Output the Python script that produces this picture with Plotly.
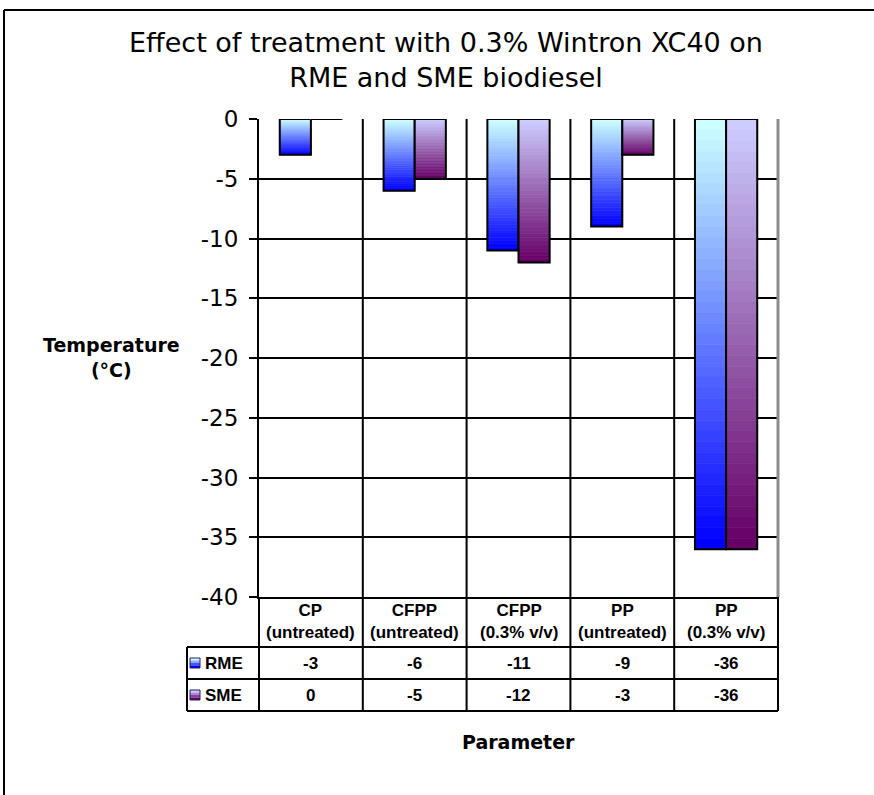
import plotly.graph_objects as go

# ---------------- data ----------------
categories = ["CP (untreated)", "CFPP (untreated)", "CFPP (0.3% v/v)", "PP (untreated)", "PP (0.3% v/v)"]
cat_line1 = ["CP", "CFPP", "CFPP", "PP", "PP"]
cat_line2 = ["(untreated)", "(untreated)", "(0.3% v/v)", "(untreated)", "(0.3% v/v)"]
rme = [-3, -6, -11, -9, -36]
sme = [0, -5, -12, -3, -36]
series_names = ["RME", "SME"]
y_ticks = [0, -5, -10, -15, -20, -25, -30, -35, -40]

# ---------------- style ----------------
W, H = 874, 795
L, R, T, B = 259, 778, 119, 597  # plot area in pixels
PW, PH = R - L, B - T

def px_x(px):
    return (px - L) / PW

def px_y(py):
    return (B - py) / PH

grad = {
    "RME": ((204, 255, 255), (0, 0, 255)),
    "SME": ((204, 204, 255), (102, 0, 102)),
}

def mix(c0, c1, t):
    return "rgb(%d,%d,%d)" % tuple(round(a + (b - a) * t) for a, b in zip(c0, c1))

N = 40
xs = list(range(len(categories)))
fig = go.Figure()

for name, vals in zip(series_names, [rme, sme]):
    c0, c1 = grad[name]
    for i in range(N):
        col = mix(c0, c1, i / (N - 1))
        fig.add_trace(go.Bar(
            x=xs, y=[v / N for v in vals], base=[v * i / N for v in vals],
            offsetgroup=name, marker=dict(color=col, line=dict(color=col, width=0.6)),
            showlegend=False, hoverinfo="skip"))
    fig.add_trace(go.Bar(
        x=xs, y=vals, offsetgroup=name, name=name,
        marker=dict(color="rgba(0,0,0,0)", line=dict(color="black", width=2)),
        showlegend=False))

shapes = []
table_bottom = 711
for k in range(1, len(categories)):
    shapes.append(dict(type="line", xref="x", yref="paper", x0=k - 0.5, x1=k - 0.5,
                       y0=1, y1=px_y(table_bottom), line=dict(color="black", width=2), layer="below"))
shapes.append(dict(type="line", xref="paper", yref="paper", x0=0, x1=0,
                   y0=0, y1=px_y(table_bottom), line=dict(color="black", width=2)))
shapes.append(dict(type="line", xref="paper", yref="paper", x0=1, x1=1,
                   y0=0, y1=1, line=dict(color="#8c8c8c", width=3)))
shapes.append(dict(type="line", xref="paper", yref="paper", x0=1, x1=1,
                   y0=0, y1=px_y(table_bottom), line=dict(color="black", width=2)))
for py in [647, 679, 711]:
    shapes.append(dict(type="line", xref="paper", yref="paper", x0=px_x(187), x1=1,
                       y0=px_y(py), y1=px_y(py), line=dict(color="black", width=2)))
shapes.append(dict(type="line", xref="paper", yref="paper", x0=px_x(187), x1=px_x(187),
                   y0=px_y(647), y1=px_y(711), line=dict(color="black", width=2)))
# outer chart border (top and left)
shapes.append(dict(type="line", xref="paper", yref="paper", x0=px_x(4), x1=px_x(W + 5),
                   y0=px_y(10), y1=px_y(10), line=dict(color="black", width=2)))
shapes.append(dict(type="line", xref="paper", yref="paper", x0=px_x(4), x1=px_x(4),
                   y0=px_y(10), y1=px_y(H + 5), line=dict(color="black", width=2)))
# legend swatches
for name, cy in zip(series_names, [663, 695]):
    c0, c1 = grad[name]
    steps = 4
    for s in range(steps):
        y0 = cy - 5 + s * 10 / steps
        y1 = y0 + 10 / steps
        shapes.append(dict(type="rect", xref="paper", yref="paper",
                           x0=px_x(190), x1=px_x(200), y0=px_y(y0), y1=px_y(y1),
                           fillcolor=mix(c0, c1, s / (steps - 1)), line=dict(width=0)))
    shapes.append(dict(type="rect", xref="paper", yref="paper",
                       x0=px_x(190), x1=px_x(200), y0=px_y(cy - 5), y1=px_y(cy + 5),
                       line=dict(color="#202060", width=1)))

ann = []
tfont = dict(family="Liberation Sans", size=17, color="black")
for k in xs:
    ann.append(dict(xref="x", yref="paper", x=k, y=px_y(621), xanchor="center", yanchor="middle",
                    showarrow=False,
                    text="<b>%s</b><br><b>%s</b>" % (cat_line1[k], cat_line2[k]),
                    font=tfont, align="center"))
for name, vals, cy in zip(series_names, [rme, sme], [663, 695]):
    ann.append(dict(xref="paper", yref="paper", x=px_x(203), y=px_y(cy), xanchor="left",
                    yanchor="middle", showarrow=False, text="<b>%s</b>" % name,
                    font=dict(family="Liberation Sans", size=17, color="black")))
    for k, v in zip(xs, vals):
        ann.append(dict(xref="x", yref="paper", x=k, y=px_y(cy), xanchor="center",
                        yanchor="middle", showarrow=False,
                        text="<b>%s</b>" % v, font=tfont))
ann.append(dict(xref="paper", yref="paper", x=0.5, y=px_y(742), xanchor="center", yanchor="middle",
                showarrow=False, text="<b>Parameter</b>",
                font=dict(family="DejaVu Sans", size=19, color="black")))
ann.append(dict(xref="paper", yref="paper", x=px_x(111), y=px_y(357), xanchor="center",
                yanchor="middle", showarrow=False,
                text="<b>Temperature</b><br><b>(°C)</b>", align="center",
                font=dict(family="DejaVu Sans", size=19, color="black")))

fig.update_layout(
    width=W, height=H,
    margin=dict(l=L, r=W - R, t=T, b=H - B, autoexpand=False),
    paper_bgcolor="white", plot_bgcolor="white",
    barmode="group", bargap=0.4, bargroupgap=0,
    title=dict(text="Effect of treatment with 0.3% Wintron XC40 on<br>RME and SME biodiesel",
               x=446 / W, xanchor="center", y=1 - 52 / H, yanchor="middle",
               font=dict(family="DejaVu Sans", size=27, color="black")),
    xaxis=dict(range=[-0.5, len(categories) - 0.5], showticklabels=False, showgrid=False,
               zeroline=False, showline=True, linecolor="black", linewidth=2, ticks=""),
    yaxis=dict(range=[-40, 0], tickvals=y_ticks, ticktext=[str(t) for t in y_ticks],
               showgrid=True, gridcolor="black", gridwidth=2, zeroline=False,
               showline=True, linecolor="black", linewidth=2, ticks="outside", ticklen=8,
               tickwidth=2, tickcolor="black", ticklabelstandoff=6,
               tickfont=dict(family="DejaVu Sans", size=23, color="black")),
    shapes=shapes, annotations=ann, showlegend=False,
)

fig.write_html("out.html", config={"displayModeBar": False},
               post_script="document.body.style.margin='0';")
